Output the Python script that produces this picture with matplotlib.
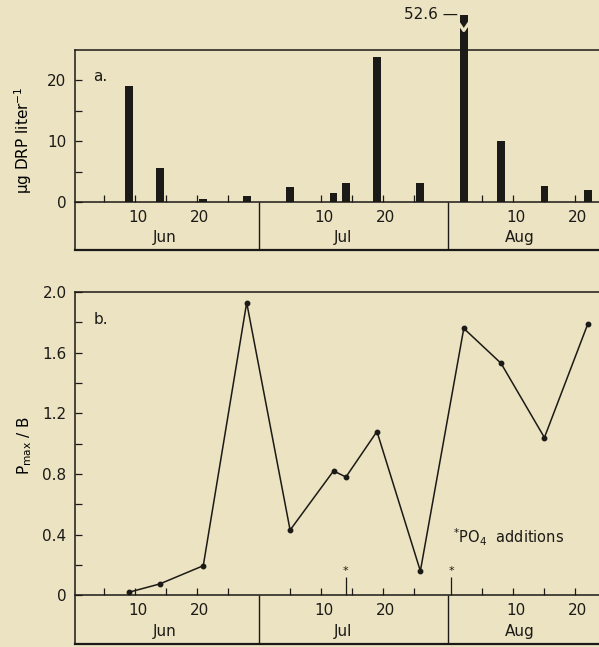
import matplotlib
matplotlib.use("Agg")
import matplotlib.pyplot as plt

# sampling days, counted from May 31 (Jun d -> d, Jul d -> 30+d, Aug d -> 61+d)
sample_day = [9, 14, 21, 28, 35, 42, 44, 49, 56, 63, 69, 76, 83]
drp = [19.0, 5.6, 0.45, 1.0, 2.4, 1.5, 3.1, 23.9, 3.1, 52.6, 10.0, 2.6, 2.0]
pmax_b = [0.02, 0.075, 0.195, 1.93, 0.43, 0.82, 0.78, 1.08, 0.16, 1.76, 1.53, 1.04, 1.79]
po4_days = [44, 61]

months = ["Jun", "Jul", "Aug"]
month_mid = [14.7, 43.5, 72]
month_edges = [30, 60.5]
major_days = [10, 20, 40, 50, 71, 81]
major_labels = ["10", "20", "10", "20", "10", "20"]
minor_days = [5, 15, 25, 35, 45, 55, 66, 76]

bg = "#ebe3c1"
ink = "#1c1a16"
plt.rcParams["font.family"] = "DejaVu Sans"
plt.rcParams["text.color"] = ink
plt.rcParams["axes.edgecolor"] = ink
plt.rcParams["xtick.color"] = ink
plt.rcParams["ytick.color"] = ink
plt.rcParams["mathtext.default"] = "regular"

fig = plt.figure(figsize=(5.99, 6.47), dpi=100, facecolor=bg)
ax1 = fig.add_axes([0.125, 0.6136, 0.875, 0.3091])
ax2 = fig.add_axes([0.125, 0.004, 0.875, 0.5447])

xlim = (0.3, 84.8)


def frame(ax, ylo, yhi, num_y, month_y):
    ax.set_facecolor(bg)
    ax.set_xlim(*xlim)
    ax.set_ylim(ylo, yhi)
    ax.spines["right"].set_visible(False)
    ax.spines["bottom"].set_position(("data", 0))
    for s in ax.spines.values():
        s.set_linewidth(1.1)
    ax.axhline(ylo, color=ink, lw=1.6, clip_on=False)
    ax.vlines(month_edges, ylo, 0, color=ink, lw=1.0)
    ax.set_xticks(major_days)
    ax.set_xticklabels([])
    ax.set_xticks(minor_days, minor=True)
    ax.tick_params(axis="x", which="both", direction="in", length=5, width=0.9)
    ax.tick_params(axis="y", which="both", direction="in", length=5, width=0.9,
                   labelsize=11, pad=6)
    for d, lab in zip(major_days, major_labels):
        ax.text(d + 0.4, num_y, lab, ha="center", va="center", fontsize=11)
    for m, xm in zip(months, month_mid):
        ax.text(xm, month_y, m, ha="center", va="center", fontsize=11)


# panel a: DRP bars
frame(ax1, -7.9, 25, -2.5, -5.8)
shown = [min(v, 30.8) for v in drp]
ax1.bar(sample_day, shown, width=1.25, color=ink, clip_on=False, zorder=3)
ax1.set_yticks([0, 10, 20])
ax1.set_yticks([5, 15], minor=True)
ax1.set_yticklabels(["0", "10", "20"])
ax1.text(3.3, 20.7, "a.", fontsize=11, va="center")
ax1.set_ylabel(r"$\mu$g DRP liter$^{-1}$", fontsize=11)
ax1.yaxis.set_label_coords(-0.078, 0.55)
# broken bar for the off-scale value
i_big = drp.index(max(drp))
xb = sample_day[i_big]
ax1.plot([xb - 0.8, xb, xb + 0.8], [29.4, 28.2, 29.4], color=bg, lw=2.2,
         clip_on=False, zorder=4)
ax1.text(xb - 0.9, 30.8, "%.1f \u2014" % max(drp), ha="right", va="center",
         fontsize=11, clip_on=False)

# panel b: Pmax/B
frame(ax2, -0.324, 2.0, -0.098, -0.237)
ax2.plot(sample_day, pmax_b, color=ink, lw=1.1, marker="o", markersize=3.2, zorder=3)
ax2.set_yticks([0, 0.4, 0.8, 1.2, 1.6, 2.0])
ax2.set_yticklabels(["0", "0.4", "0.8", "1.2", "1.6", "2.0"])
ax2.set_yticks([0.2, 0.6, 1.0, 1.4, 1.8], minor=True)
ax2.text(3.3, 1.82, "b.", fontsize=11, va="center")
ax2.set_ylabel(r"P$_{max}$ / B", fontsize=11)
ax2.yaxis.set_label_coords(-0.078, 0.564)
ax2.vlines(po4_days, 0, 0.12, color=ink, lw=0.9)
for d in po4_days:
    ax2.text(d, 0.16, "*", ha="center", va="center", fontsize=8)
ax2.text(61.3, 0.38, r"$^{*}$PO$_4$  additions", ha="left", va="center", fontsize=10.5)

fig.savefig("out.png", dpi=100, facecolor=bg)
